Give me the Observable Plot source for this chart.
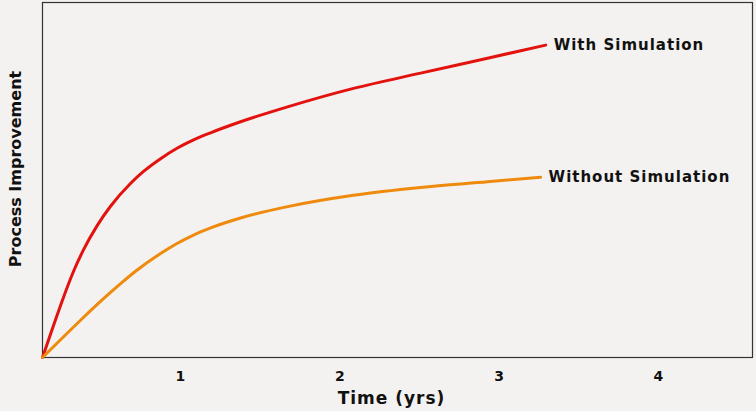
<!DOCTYPE html>
<html>
<head>
<meta charset="utf-8">
<script src="https://cdn.jsdelivr.net/npm/d3@7"></script>
<script src="https://cdn.jsdelivr.net/npm/@observablehq/plot@0.6"></script>
<style>
  html, body { margin: 0; padding: 0; background: #f3f2f0; }
  #chart svg { display: block; }
</style>
</head>
<body>
<div id="chart"></div>
<script>
const seriesNames = ["With Simulation", "Without Simulation"];
const timeWith = [0.134, 0.203, 0.266, 0.329, 0.391, 0.479, 0.561, 0.686, 0.768, 0.875, 0.981, 1.082, 1.189, 1.377, 1.672, 2.086, 2.507, 2.927, 3.292];
const valueWith = [0, 9.0, 17.0, 24.3, 30.3, 37.3, 42.6, 49.0, 52.4, 56.0, 59.0, 61.3, 63.3, 66.4, 70.6, 75.8, 80.1, 84.3, 88.0];
const timeWithout = [0.134, 0.247, 0.373, 0.498, 0.624, 0.718, 0.875, 0.981, 1.082, 1.189, 1.377, 1.672, 2.086, 2.507, 2.927, 3.260];
const valueWithout = [0, 5.0, 10.5, 15.8, 20.8, 24.3, 29.3, 32.2, 34.5, 36.5, 39.3, 42.5, 45.7, 47.9, 49.5, 50.8];
const xTicks = [1, 2, 3, 4];
const xLabel = "Time (yrs)";
const yLabel = "Process Improvement";
const colors = ["#e3120f", "#ee8a0c"];

const withData = timeWith.map((t, i) => ({t, v: valueWith[i], s: seriesNames[0]}));
const withoutData = timeWithout.map((t, i) => ({t, v: valueWithout[i], s: seriesNames[1]}));
const ends = [withData[withData.length - 1], withoutData[withoutData.length - 1]];

const chart = Plot.plot({
  width: 756,
  height: 411,
  marginLeft: 42,
  marginRight: 4,
  marginTop: 2,
  marginBottom: 54,
  style: {background: "#f3f2f0", fontFamily: "'DejaVu Sans', sans-serif"},
  x: {domain: [0.134, 4.59]},
  y: {domain: [0, 100], axis: null},
  marks: [
    Plot.frame({stroke: "#333", strokeWidth: 1.2}),
    Plot.axisX({ticks: xTicks, tickFormat: d => String(d), tickSize: 0, tickPadding: 14, fontSize: 14, fontWeight: "bold", fill: "#111",
      label: null}),
    Plot.text([xLabel], {text: d => d, frameAnchor: "bottom", dx: -6, dy: 46,
      fontSize: 17, fontWeight: "bold", fill: "#111"}),
    Plot.text([yLabel], {text: d => d, frameAnchor: "left", textAnchor: "middle", rotate: -90, dx: -27, dy: -11,
      fontSize: 16, fontWeight: "bold", fill: "#111"}),
    Plot.line(withData, {x: "t", y: "v", stroke: colors[0], strokeWidth: 3, curve: "monotone-x"}),
    Plot.line(withoutData, {x: "t", y: "v", stroke: colors[1], strokeWidth: 3, curve: "monotone-x"}),
    Plot.text(ends, {x: "t", y: "v", text: "s", textAnchor: "start", dx: 8, fontSize: 15, fontWeight: "bold",
      fill: "#111"})
  ]
});
document.getElementById("chart").appendChild(chart);
// widen the series labels and axis title a little, as in the reference
d3.select(chart).selectAll("text").filter(function() {
  return seriesNames.includes(this.textContent) || this.textContent === xLabel;
}).style("letter-spacing", "1px");
</script>
</body>
</html>
